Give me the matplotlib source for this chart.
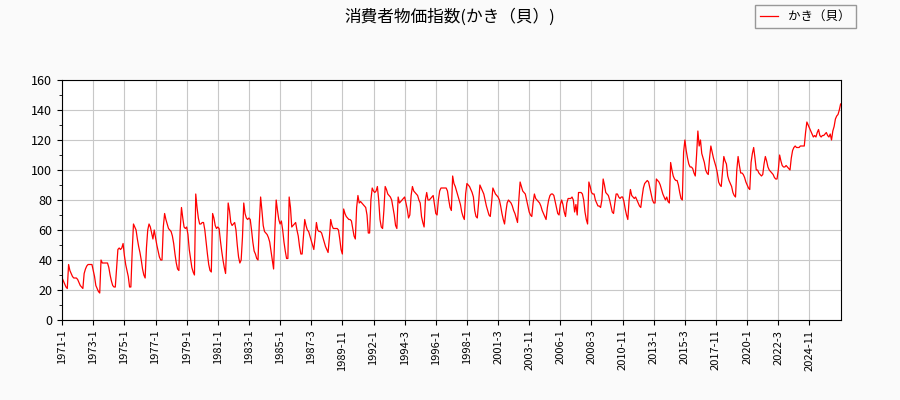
import matplotlib
matplotlib.use("Agg")
import matplotlib.pyplot as plt
from matplotlib.ticker import MultipleLocator

plt.rcParams['font.family'] = ['Noto Sans CJK JP', 'DejaVu Sans']

title = "消費者物価指数(かき（貝）)"
series_name = "かき（貝）"

# monthly index values (12 points per row)
values = [
    28, 26, 24, 22, 21, 37, 33, 31, 29, 28, 28, 28,          # 0
    27, 25, 23, 22, 21, 31, 34, 36, 37, 37, 37, 37,          # 12
    33, 29, 23, 21, 19, 18, 40, 38, 38, 38, 38, 38,          # 24
    35, 30, 26, 23, 22, 22, 35, 47, 48, 47, 48, 51,          # 36
    43, 37, 33, 29, 22, 22, 45, 64, 62, 60, 54, 49,          # 48
    45, 40, 34, 30, 28, 48, 60, 64, 62, 58, 54, 60,          # 60
    55, 50, 46, 42, 40, 40, 62, 71, 67, 64, 61, 60,          # 72
    59, 56, 51, 44, 38, 34, 33, 60, 75, 68, 62, 61,          # 84
    62, 57, 47, 41, 35, 32, 30, 84, 75, 68, 64, 64,          # 96
    65, 65, 60, 52, 44, 37, 33, 32, 71, 68, 63, 61,          # 108
    62, 61, 53, 46, 40, 35, 31, 55, 78, 73, 65, 63,          # 120
    64, 65, 60, 50, 42, 38, 40, 55, 78, 71, 68, 67,          # 132
    68, 67, 60, 52, 46, 44, 41, 40, 65, 82, 73, 63,          # 144
    59, 58, 57, 55, 52, 46, 40, 34, 60, 80, 73, 67,          # 156
    64, 66, 60, 52, 46, 41, 41, 82, 75, 62, 63, 64,          # 168
    65, 60, 56, 49, 44, 44, 56, 67, 63, 60, 59, 56,          # 180
    53, 50, 47, 55, 65, 60, 59, 59, 58, 55, 52, 49,          # 192
    47, 45, 55, 67, 63, 61, 61, 61, 61, 60, 54, 47,          # 204
    44, 74, 71, 69, 68, 67, 67, 66, 61, 56, 54, 75,          # 216
    83, 78, 79, 78, 77, 76, 75, 70, 58, 58, 80, 88,          # 228
    86, 85, 86, 89, 80, 67, 62, 61, 73, 89, 87, 84,          # 240
    83, 82, 80, 75, 70, 63, 61, 82, 78, 79, 80, 81,          # 252
    82, 78, 74, 68, 70, 83, 89, 86, 85, 84, 83, 80,          # 264
    78, 69, 65, 62, 80, 85, 80, 80, 81, 82, 83, 77,          # 276
    71, 70, 80, 86, 88, 88, 88, 88, 88, 86, 80, 75,          # 288
    73, 96, 91, 89, 86, 83, 80, 77, 72, 69, 67, 84,          # 300
    91, 90, 89, 87, 85, 82, 73, 69, 68, 78, 90, 88,          # 312
    86, 84, 80, 76, 73, 70, 69, 78, 88, 86, 84, 83,          # 324
    82, 80, 76, 71, 67, 64, 72, 78, 80, 79, 78, 76,          # 336
    73, 71, 68, 65, 80, 92, 89, 86, 85, 84, 80, 76,          # 348
    72, 70, 69, 78, 84, 81, 80, 79, 78, 76, 73, 71,          # 360
    69, 67, 75, 80, 83, 84, 84, 83, 79, 75, 71, 70,          # 372
    77, 80, 77, 72, 69, 78, 81, 81, 81, 82, 80, 72,          # 384
    77, 70, 85, 85, 85, 84, 80, 72, 67, 64, 92, 89,          # 396
    85, 84, 84, 80, 78, 76, 76, 75, 80, 94, 90, 85,          # 408
    84, 83, 80, 76, 72, 71, 78, 84, 84, 82, 81, 82,          # 420
    82, 79, 74, 70, 67, 80, 87, 83, 82, 81, 82, 80,          # 432
    78, 76, 75, 82, 88, 91, 92, 93, 92, 88, 84, 80,          # 444
    78, 78, 94, 93, 92, 90, 87, 84, 82, 80, 82, 79,          # 456
    78, 105, 100, 96, 94, 93, 93, 90, 85, 81, 80, 112,       # 468
    120, 113, 108, 104, 102, 102, 101, 98, 96, 110, 126, 116,  # 480
    120, 111, 108, 105, 100, 98, 97, 108, 116, 112, 108, 105,  # 492
    102, 98, 92, 90, 89, 99, 109, 106, 104, 96, 93, 91,      # 504
    89, 85, 83, 82, 100, 109, 103, 98, 98, 97, 95, 92,       # 516
    90, 88, 87, 105, 111, 115, 108, 100, 100, 98, 97, 96,    # 528
    97, 104, 109, 106, 102, 100, 99, 98, 97, 95, 94, 94,     # 540
    100, 110, 106, 103, 102, 102, 103, 102, 101, 100, 108, 113,  # 552
    115, 116, 115, 115, 115, 116, 116, 116, 116, 125, 132, 130,  # 564
    128, 126, 124, 122, 123, 122, 125, 127, 123, 122, 123, 123,  # 576
    124, 125, 123, 122, 124, 120, 126, 129, 134, 136, 137, 140,  # 588
    144,                                                     # 600
]

# x tick labels, one every 24 points
tick_labels = [
    "1971-1", "1973-1", "1975-1", "1977-1", "1979-1", "1981-1", "1983-1",
    "1985-1", "1987-3", "1989-11", "1992-1", "1994-3", "1996-1", "1998-1",
    "2001-3", "2003-11", "2006-1", "2008-3", "2010-11", "2013-1", "2015-3",
    "2017-11", "2020-1", "2022-3", "2024-11",
]

fig = plt.figure(figsize=(9, 4), dpi=100, facecolor="#fafafa")
ax = fig.add_axes([0.069, 0.2, 0.865, 0.6])

x = list(range(len(values)))
ax.plot(x, values, color="red", linewidth=0.9, label=series_name)

ax.set_xlim(0, len(values) - 1)
ax.set_ylim(0, 160)
ax.set_xticks([i * 24 for i in range(len(tick_labels))])
ax.set_xticklabels(tick_labels, rotation=90, fontsize=8)
ax.yaxis.set_major_locator(MultipleLocator(20))
ax.yaxis.set_minor_locator(MultipleLocator(10))
ax.tick_params(axis="y", labelsize=9)
ax.grid(True, color="#c8c8c8", linewidth=0.8)
ax.set_axisbelow(True)

fig.suptitle(title, fontsize=12, y=0.978)
fig.legend(loc="upper right", bbox_to_anchor=(0.958, 1.003), fancybox=False,
           edgecolor="gray", facecolor="#fafafa", fontsize=9, handlelength=1.5)

plt.savefig("out.png", facecolor=fig.get_facecolor())
plt.close()
